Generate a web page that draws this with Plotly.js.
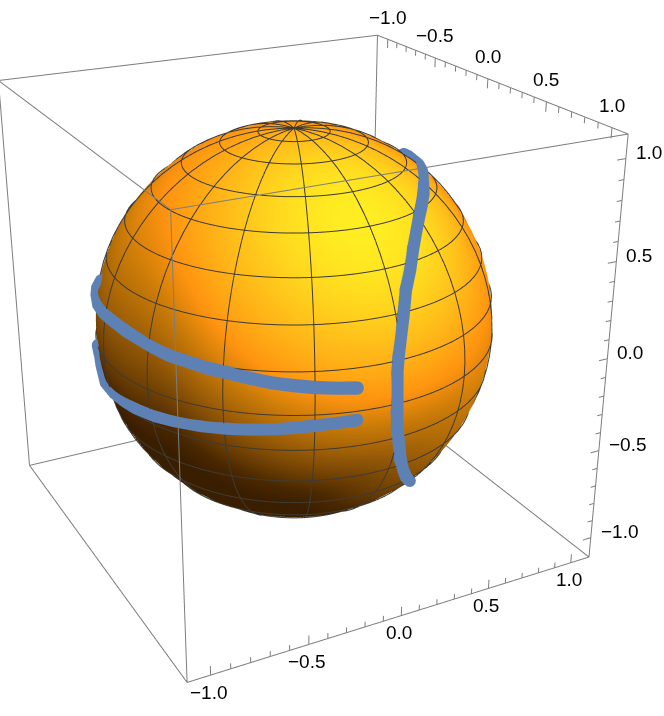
<!DOCTYPE html>
<html>
<head>
<meta charset="utf-8">
<script src="https://cdn.plot.ly/plotly-3.0.1.min.js"></script>
<style>
  html, body { margin: 0; padding: 0; background: #fff; overflow: hidden; }
  #chart { position: absolute; left: -323px; top: -298px; width: 1234px; height: 1234px; }
</style>
</head>
<body>
<div id="chart"></div>
<script>
// ── Data ──────────────────────────────────────────────────────
const upperX = [0.98, 0.95, 0.92, 0.88, 0.83, 0.77, 0.70, 0.63, 0.54, 0.46, 0.36, 0.27, 0.17, 0.05, -0.09, -0.23, -0.39, -0.40, -0.31];
const upperY = [-0.19, -0.29, -0.38, -0.46, -0.54, -0.62, -0.70, -0.76, -0.82, -0.87, -0.91, -0.94, -0.97, -0.98, -0.98, -0.96, -0.91, -0.90, -0.91];
const upperZ = [0.08, 0.09, 0.10, 0.11, 0.12, 0.135, 0.15, 0.155, 0.165, 0.17, 0.18, 0.19, 0.20, 0.20, 0.19, 0.18, 0.16, 0.20, 0.27];

const lowerX = [0.98, 0.95, 0.92, 0.88, 0.83, 0.77, 0.70, 0.59, 0.46, 0.36, 0.23, 0.11, -0.04, -0.21, -0.24, -0.26, -0.27, -0.24];
const lowerY = [-0.19, -0.29, -0.38, -0.46, -0.54, -0.62, -0.70, -0.79, -0.87, -0.92, -0.96, -0.97, -0.97, -0.95, -0.95, -0.95, -0.95, -0.97];
const lowerZ = [-0.08, -0.085, -0.09, -0.10, -0.11, -0.12, -0.13, -0.145, -0.16, -0.17, -0.18, -0.195, -0.215, -0.24, -0.19, -0.16, -0.12, -0.04];

const rightX = [0.07, 0.08, 0.10, 0.12, 0.28, 0.40, 0.50, 0.58, 0.64, 0.71, 0.77, 0.83, 0.88, 0.93, 0.96, 0.98, 0.99, 1.00, 0.99, 0.96, 0.93, 0.86, 0.80, 0.66];
const rightY = [0.58, 0.60, 0.62, 0.64, 0.56, 0.49, 0.43, 0.37, 0.32, 0.26, 0.21, 0.16, 0.11, 0.07, 0.04, 0.02, 0.01, 0.01, 0.02, 0.05, 0.08, 0.14, 0.20, 0.31];
const rightZ = [0.81, 0.80, 0.78, 0.76, 0.78, 0.77, 0.76, 0.73, 0.70, 0.65, 0.60, 0.53, 0.46, 0.36, 0.26, 0.19, 0.12, -0.07, -0.17, -0.27, -0.37, -0.48, -0.57, -0.69];

const majorTicks = [-1, -0.5, 0, 0.5, 1];
const minorTicks = [-0.9, -0.8, -0.7, -0.6, -0.4, -0.3, -0.2, -0.1, 0.1, 0.2, 0.3, 0.4, 0.6, 0.7, 0.8, 0.9];
const tickLabels = ["−1.0", "−0.5", "0.0", "0.5", "1.0"];

const meshColat = [10, 21, 33, 44, 56, 68, 80, 92, 103, 115, 127, 139, 151, 165];
const meshLon = [2, 26, 50, 74, 98, 122, 146, 170, 194, 218, 242, 266, 290, 314, 338];

// ── Styling constants ─────────────────────────────────────────
const BOX = 1.115;
const TUBE_COLOR = "#5E81B5";
const TUBE_RADIUS = 0.031;
const MESH_COLOR = "rgb(62,58,52)";
const BOX_COLOR = "rgb(125,125,125)";
const R = [0.460, 0.888, 0];
const U = [-0.354, 0.183, 0.917];
const E = [0.814, -0.422, 0.399];
const view = (a, b, c) => [0, 1, 2].map(i => a * R[i] + b * U[i] + c * E[i]);
const LIGHT_A = view(0.30, 0.42, 0.85);
const LIGHT_B = view(-0.25, 0.75, 0.6);
const LIGHT_C = view(0.9, 0.2, 0.4);
const SPHERE_SCALE = [
  [0.00, "#3a1e00"],
  [0.10, "#4a2800"],
  [0.30, "#8a5206"],
  [0.50, "#cc7c08"],
  [0.62, "#ff9410"],
  [0.85, "#ffc81c"],
  [1.00, "#ffee22"],
];

const rad = d => d * Math.PI / 180;
const dot = (a, b) => Math.max(0, a[0] * b[0] + a[1] * b[1] + a[2] * b[2]);

// ── Sphere ────────────────────────────────────────────────────
function buildSphere() {
  const xs = [], ys = [], zs = [], cs = [];
  for (let c = 0; c <= 180; c += 3) {
    const rx = [], ry = [], rz = [], rc = [];
    for (let l = 0; l <= 360; l += 3) {
      const n = [
        Math.sin(rad(c)) * Math.cos(rad(l)),
        Math.sin(rad(c)) * Math.sin(rad(l)),
        Math.cos(rad(c)),
      ];
      const a = Math.pow(dot(n, LIGHT_A), 1.3);
      const b = 0.66 * dot(n, LIGHT_B);
      const d = 0.6 * dot(n, LIGHT_C);
      rx.push(n[0]); ry.push(n[1]); rz.push(n[2]);
      rc.push(Math.pow(a ** 6 + b ** 6 + d ** 6, 1 / 6));
    }
    xs.push(rx); ys.push(ry); zs.push(rz); cs.push(rc);
  }
  return {
    type: "surface", x: xs, y: ys, z: zs, surfacecolor: cs,
    colorscale: SPHERE_SCALE, cmin: 0, cmax: 1, showscale: false,
    hoverinfo: "skip",
    lighting: { ambient: 1, diffuse: 0, specular: 0, roughness: 1, fresnel: 0 },
  };
}

// ── Mesh lines ────────────────────────────────────────────────
function buildMesh() {
  const x = [], y = [], z = [];
  const r = 1.004;
  const add = (c, l) => {
    x.push(r * Math.sin(rad(c)) * Math.cos(rad(l)));
    y.push(r * Math.sin(rad(c)) * Math.sin(rad(l)));
    z.push(r * Math.cos(rad(c)));
  };
  const gap = () => { x.push(null); y.push(null); z.push(null); };
  meshColat.forEach(c => {
    for (let l = 0; l <= 360; l += 4) add(c, l);
    gap();
  });
  meshLon.forEach(l => {
    for (let c = 0; c <= 180; c += 4) add(c, l);
    gap();
  });
  return lineTrace(x, y, z, MESH_COLOR, 2);
}

function lineTrace(x, y, z, color, width) {
  return {
    type: "scatter3d", mode: "lines", x, y, z,
    line: { color, width }, hoverinfo: "skip", connectgaps: false,
  };
}

// ── Box and ticks ─────────────────────────────────────────────
function buildBox() {
  const x = [], y = [], z = [];
  const seg = (a, b) => {
    x.push(a[0], b[0], null); y.push(a[1], b[1], null); z.push(a[2], b[2], null);
  };
  const s = [-BOX, BOX];
  s.forEach(p => s.forEach(q => {
    seg([-BOX, p, q], [BOX, p, q]);
    seg([p, -BOX, q], [p, BOX, q]);
    seg([p, q, -BOX], [p, q, BOX]);
  }));
  return lineTrace(x, y, z, BOX_COLOR, 2);
}

function buildTicks() {
  const x = [], y = [], z = [];
  const seg = (a, b) => {
    x.push(a[0], b[0], null); y.push(a[1], b[1], null); z.push(a[2], b[2], null);
  };
  const addAll = (list, len) => list.forEach(t => {
    seg([t, BOX, BOX], [t, BOX, BOX - len]);     // x axis, top edge
    seg([BOX, t, -BOX], [BOX, t, -BOX + len]);   // y axis, bottom edge
    seg([BOX, BOX, t], [BOX, BOX - len, t]);     // z axis, right edge
  });
  addAll(majorTicks, 0.05);
  addAll(minorTicks, 0.03);
  return lineTrace(x, y, z, BOX_COLOR, 2);
}

function buildLabels() {
  const font = { family: "Liberation Sans, Arial, sans-serif", size: 19, color: "#000" };
  const out = [];
  majorTicks.forEach((t, i) => {
    const base = { text: tickLabels[i], showarrow: false, font, xanchor: "center", yanchor: "middle" };
    out.push({ ...base, x: t, y: BOX, z: BOX, xshift: 0, yshift: 22 });
    out.push({ ...base, x: BOX, y: t, z: -BOX, xshift: -2, yshift: -17 });
    out.push({ ...base, x: BOX, y: BOX, z: t, xanchor: "left", xshift: 8, yshift: 6 });
  });
  return out;
}

// ── Curve on the sphere, as a tube with round ends ────────────
function tube(px, py, pz) {
  const n = px.length;
  const pts = px.map((v, i) => [v, py[i], pz[i]]);
  const sub = (a, b) => a.map((v, i) => v - b[i]);
  const unit = a => { const m = Math.hypot(...a); return a.map(v => v / m); };
  const cross = (a, b) => [a[1]*b[2]-a[2]*b[1], a[2]*b[0]-a[0]*b[2], a[0]*b[1]-a[1]*b[0]];
  const xs = [], ys = [], zs = [], cs = [];
  const ring = (c, t, radius) => {
    const m = unit(c);
    const nn = unit(sub(m, t.map(v => v * (m[0]*t[0] + m[1]*t[1] + m[2]*t[2]))));
    const bb = cross(t, nn);
    const rx = [], ry = [], rz = [], rc = [];
    for (let a = 0; a <= 360; a += 30) {
      const ca = Math.cos(rad(a)) * radius, sa = Math.sin(rad(a)) * radius;
      rx.push(c[0] + nn[0]*ca + bb[0]*sa);
      ry.push(c[1] + nn[1]*ca + bb[1]*sa);
      rz.push(c[2] + nn[2]*ca + bb[2]*sa);
      rc.push(0);
    }
    xs.push(rx); ys.push(ry); zs.push(rz); cs.push(rc);
  };
  const tangent = i => unit(sub(pts[Math.min(i + 1, n - 1)], pts[Math.max(i - 1, 0)]));
  const cap = [90, 65, 40, 20];
  const t0 = tangent(0);
  cap.forEach(d => ring(sub(pts[0], t0.map(v => v * TUBE_RADIUS * Math.sin(rad(d)))), t0, TUBE_RADIUS * Math.cos(rad(d)) + 1e-5));
  pts.forEach((c, i) => ring(c, tangent(i), TUBE_RADIUS));
  const t1 = tangent(n - 1);
  cap.slice().reverse().forEach(d => ring(pts[n - 1].map((v, k) => v + t1[k] * TUBE_RADIUS * Math.sin(rad(d))), t1, TUBE_RADIUS * Math.cos(rad(d)) + 1e-5));
  return {
    type: "surface", x: xs, y: ys, z: zs, surfacecolor: cs,
    colorscale: [[0, TUBE_COLOR], [1, TUBE_COLOR]], cmin: 0, cmax: 1, showscale: false,
    hoverinfo: "skip",
    lighting: { ambient: 1, diffuse: 0, specular: 0, roughness: 1, fresnel: 0 },
  };
}

// ── Initialise ────────────────────────────────────────────────
const hiddenAxis = {
  range: [-BOX, BOX], autorange: false,
  showgrid: false, zeroline: false, showline: false, showticklabels: false,
  showbackground: false, showspikes: false, ticks: "", title: { text: "" },
};

const eye = [2.768, -1.434, 1.357];

Plotly.newPlot("chart", [
  buildSphere(),
  buildMesh(),
  buildBox(),
  buildTicks(),
  tube(upperX, upperY, upperZ),
  tube(lowerX, lowerY, lowerZ),
  tube(rightX, rightY, rightZ),
], {
  width: 1234, height: 1234,
  margin: { t: 0, r: 0, b: 0, l: 0 },
  paper_bgcolor: "#fff",
  showlegend: false,
  scene: {
    domain: { x: [0, 1], y: [0, 1] },
    aspectmode: "cube",
    xaxis: hiddenAxis, yaxis: hiddenAxis, zaxis: hiddenAxis,
    camera: {
      projection: { type: "perspective" },
      up: { x: 0, y: 0, z: 1 },
      center: { x: 0, y: 0, z: 0 },
      eye: { x: eye[0], y: eye[1], z: eye[2] },
    },
    annotations: buildLabels(),
  },
}, { displayModeBar: false });
</script>
</body>
</html>
